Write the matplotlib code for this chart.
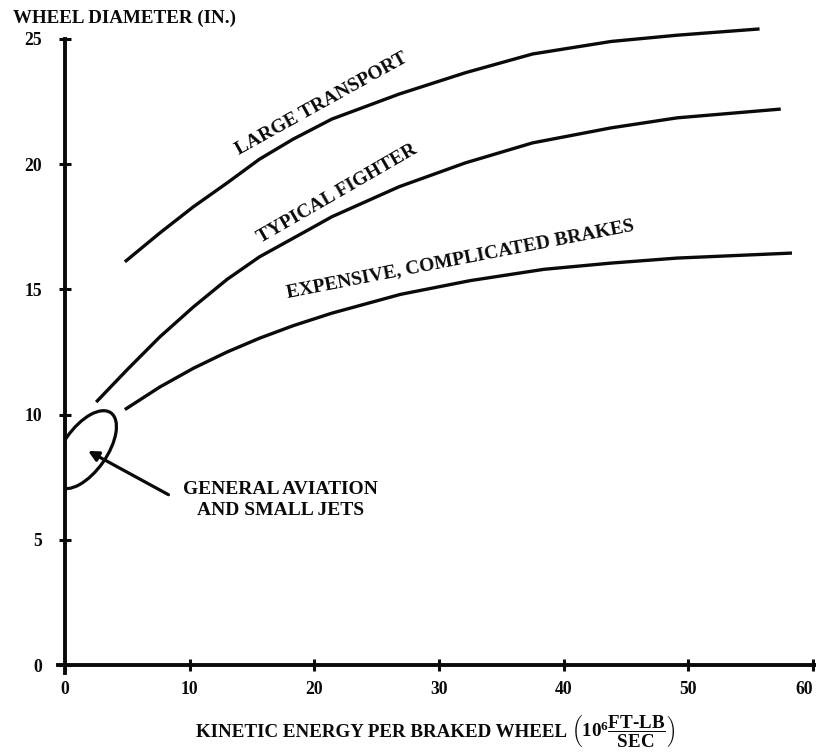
import matplotlib
matplotlib.use("Agg")
import matplotlib.pyplot as plt
from matplotlib.patches import Ellipse, Rectangle
from matplotlib.transforms import ScaledTranslation

plt.rcParams['font.family'] = ['Liberation Serif', 'DejaVu Serif']
plt.rcParams['font.weight'] = 'bold'
plt.rcParams['mathtext.fontset'] = 'custom'
plt.rcParams['mathtext.rm'] = 'Liberation Serif:bold'
plt.rcParams['mathtext.it'] = 'Liberation Serif:bold'
plt.rcParams['mathtext.bf'] = 'Liberation Serif:bold'

# ---- data ----
lt_x = [4.8, 7.6, 10.3, 13.0, 15.6, 18.3, 21.4, 26.8, 32.1, 37.5, 43.8, 49.1, 55.7]
lt_y = [16.1, 17.25, 18.3, 19.25, 20.2, 21.0, 21.8, 22.8, 23.65, 24.4, 24.9, 25.15, 25.4]

tf_x = [2.5, 5.0, 7.6, 10.3, 13.0, 15.6, 19.6, 21.4, 26.8, 32.1, 37.5, 43.8, 49.1, 57.4]
tf_y = [10.5, 11.8, 13.1, 14.3, 15.4, 16.3, 17.4, 17.9, 19.1, 20.05, 20.85, 21.45, 21.85, 22.2]

ex_x = [4.8, 7.6, 10.3, 13.0, 15.6, 18.3, 21.4, 26.9, 32.5, 38.4, 43.8, 49.1, 58.3]
ex_y = [10.2, 11.1, 11.85, 12.5, 13.05, 13.55, 14.05, 14.8, 15.35, 15.8, 16.05, 16.25, 16.45]

x_ticks = [0, 10, 20, 30, 40, 50, 60]
y_ticks = [0, 5, 10, 15, 20, 25]

curve_labels = ["LARGE TRANSPORT", "TYPICAL FIGHTER", "EXPENSIVE, COMPLICATED BRAKES"]
ga_label = "GENERAL AVIATION\nAND SMALL JETS"
ga_center = (1.6, 8.6)
ga_arrow_tip = (1.85, 8.55)
ga_arrow_tail = (8.3, 6.8)

INK = '#0a0a0a'

fig = plt.figure(figsize=(8.16, 7.52), dpi=100)
ax = fig.add_axes([0.0705, 0.1057, 0.9306, 0.8758])
ax.set_xlim(-0.6, 60.3)
ax.set_ylim(-0.3, 26.0)

for s in ['top', 'right']:
    ax.spines[s].set_visible(False)
ax.spines['left'].set_position(('data', 0))
ax.spines['bottom'].set_position(('data', 0))
ax.spines['left'].set_bounds(-0.3, 25)
ax.spines['bottom'].set_bounds(-0.6, 60.3)
for s in ['left', 'bottom']:
    ax.spines[s].set_linewidth(2.8)
    ax.spines[s].set_color(INK)

ax.set_xticks(x_ticks)
ax.set_yticks(y_ticks)
ax.set_xticklabels([str(v) for v in x_ticks])
ax.set_yticklabels([str(v) for v in y_ticks])
ax.tick_params(axis='both', direction='inout', width=2.2, colors=INK,
               labelsize=12.7)
ax.tick_params(axis='y', length=8, pad=12.5)
ax.tick_params(axis='x', length=9, pad=7)
for lab in ax.get_xticklabels() + ax.get_yticklabels():
    lab.set_fontweight('bold')
ax.get_xticklabels()[-1].set_horizontalalignment('right')

lw = 2.4
for xs, ys in [(lt_x, lt_y), (tf_x, tf_y), (ex_x, ex_y)]:
    ax.plot(xs, ys, color=INK, lw=lw, solid_capstyle='butt', solid_joinstyle='round')

# curve labels
ax.text(20.6, 22.4, curve_labels[0], rotation=29, ha='center', va='center',
        fontsize=14, fontweight='bold', color=INK, rotation_mode='anchor')
ax.text(21.8, 18.8, curve_labels[1], rotation=30, ha='center', va='center',
        fontsize=14, fontweight='bold', color=INK, rotation_mode='anchor')
ax.text(31.7, 16.2, curve_labels[2], rotation=11, ha='center', va='center',
        fontsize=14, fontweight='bold', color=INK, rotation_mode='anchor')

# general aviation ellipse
ell = Ellipse((0, 0), 0.9, 0.44, angle=55, fill=False, lw=2.3, ec=INK,
              transform=fig.dpi_scale_trans + ScaledTranslation(ga_center[0], ga_center[1], ax.transData))
ax.add_patch(ell)
clip = Rectangle((0, -1), 70, 30, transform=ax.transData, visible=False)
ax.add_patch(clip)
ell.set_clip_path(clip)

ax.annotate("", xy=ga_arrow_tip, xytext=ga_arrow_tail,
            arrowprops=dict(arrowstyle='-|>,head_length=0.6,head_width=0.3',
                            color=INK, lw=2.3, shrinkA=0, shrinkB=0))
ax.text(17.3, 6.6, ga_label, ha='center', va='center', fontsize=14,
        fontweight='bold', color=INK, linespacing=1.3)

# axis titles
fig.text(0.016, 0.975, "WHEEL DIAMETER (IN.)", ha='left', va='center',
         fontsize=13.7, fontweight='bold', color=INK)
fig.text(0.695, 0.0197, "KINETIC ENERGY PER BRAKED WHEEL", ha='right', va='baseline',
         fontsize=13.7, fontweight='bold', color=INK)
fig.text(0.700, 0.0197, r"$\left(10^6\dfrac{\mathrm{FT\text{-}LB}}{\mathrm{SEC}}\right)$",
         ha='left', va='baseline', fontsize=13.7, color=INK)

fig.savefig("out.png", dpi=100, facecolor='white')
